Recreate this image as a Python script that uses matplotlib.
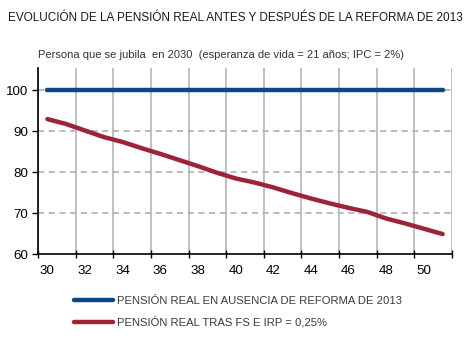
import numpy as np
import matplotlib
matplotlib.use("Agg")
import matplotlib.pyplot as plt
from matplotlib.lines import Line2D

plt.rcParams['font.family'] = ['Liberation Sans', 'DejaVu Sans']

# edad del jubilado (años desde 2030 -> edad 30..51 en el eje)
years = list(range(30, 52))
pension_sin_reforma = [100] * len(years)
pension_con_reforma = [93.0, 91.8, 90.2, 88.6, 87.4, 85.9, 84.5, 83.0, 81.5, 79.9,
                       78.5, 77.5, 76.3, 74.9, 73.6, 72.4, 71.3, 70.3, 68.7, 67.5,
                       66.2, 64.9]
xtick_labels = [str(y) for y in range(30, 51, 2)]

azul = '#0e4683'
rojo = '#9b2436'

fig = plt.figure(figsize=(4.75, 3.49), dpi=100)
ax = fig.add_axes([0.08, 0.272, 0.8716, 0.532])

ax.plot(years, pension_sin_reforma, color=azul, lw=3.2, solid_capstyle='round', zorder=3)
ax.plot(years, pension_con_reforma, color=rojo, lw=3.2, solid_capstyle='round', zorder=3)

ax.set_xlim(29.5, 51.5)
ax.set_ylim(60, 105.4)

# category boundaries carry gridlines and tick marks, labels sit in the middle
ax.set_xticks(np.arange(29.5, 52, 2))
ax.set_xticklabels([])
ax.set_xticks(np.arange(30, 51, 2), minor=True)
ax.set_xticklabels(xtick_labels, minor=True)
ax.tick_params(axis='x', which='major', direction='inout', length=6, width=1)
ax.tick_params(axis='x', which='minor', length=0, pad=8, labelsize=9.6)
ax.set_yticks([60, 70, 80, 90, 100])
ax.tick_params(axis='y', direction='out', length=4, width=1, labelsize=9.6, pad=3)

ax.grid(axis='x', which='major', color='#b0b0b0', lw=1.1)
for v in (70, 80, 90, 100):
    ax.axhline(v, color='#a8a8a8', lw=1.1, ls=(0, (4, 3)), zorder=1)

for s in ('top', 'right'):
    ax.spines[s].set_visible(False)
ax.spines['left'].set_linewidth(1.2)
ax.spines['bottom'].set_linewidth(1.2)

fig.text(0.016, 0.948, 'EVOLUCIÓN DE LA PENSIÓN REAL ANTES Y DESPUÉS DE LA REFORMA DE 2013',
         fontsize=8.5, color='#1a1a1a', va='center', ha='left')
fig.text(0.08, 0.842, 'Persona que se jubila  en 2030  (esperanza de vida = 21 años; IPC = 2%)',
         fontsize=8.0, color='#333333', va='center', ha='left')

handles = [Line2D([], [], color=azul, lw=3.2, solid_capstyle='round'),
           Line2D([], [], color=rojo, lw=3.2, solid_capstyle='round')]
fig.legend(handles, ['PENSIÓN REAL EN AUSENCIA DE REFORMA DE 2013',
                     'PENSIÓN REAL TRAS FS E IRP = 0,25%'],
           loc='upper left', bbox_to_anchor=(0.147, 0.165), frameon=False,
           handlelength=3.4, handletextpad=0.4, labelspacing=0.9,
           prop={'size': 8.1}, labelcolor='#3a3a3a', borderaxespad=0)

fig.savefig('out.png', dpi=100)
